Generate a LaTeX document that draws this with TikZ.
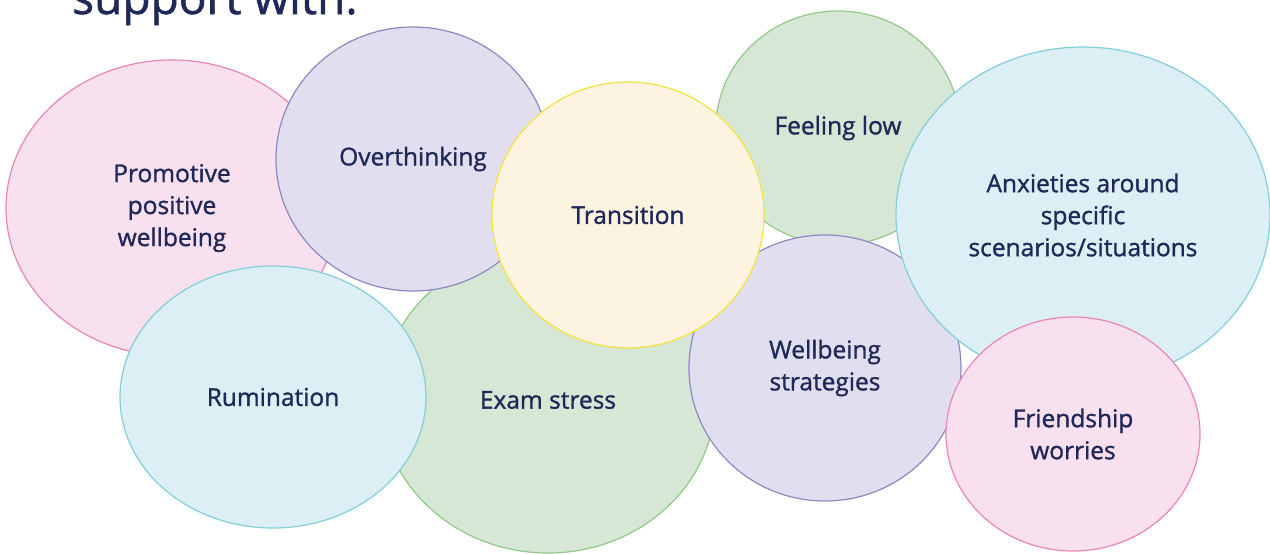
\documentclass[tikz,border=0pt]{standalone}
\usepackage{fontspec}
\setmainfont{Open Sans}
\newfontfamily\labelfont{Open Sans}[FakeBold=1.2]
\usepackage{xcolor}
\usepackage{tikz}
\usetikzlibrary{shapes}

\definecolor{navy_text}{HTML}{1F2858}
\definecolor{pink_fill}{HTML}{F9E0EE}
\definecolor{pink_line}{HTML}{E985B6}
\definecolor{lilac_fill}{HTML}{E1DFEF}
\definecolor{lilac_line}{HTML}{8E86C2}
\definecolor{sun_fill}{HTML}{FCF4E0}
\definecolor{sun_line}{HTML}{F5E23C}
\definecolor{mint_fill}{HTML}{D6E7D6}
\definecolor{mint_line}{HTML}{90CA86}
\definecolor{sky_fill}{HTML}{DCEFF4}
\definecolor{sky_line}{HTML}{82CFDA}

\tikzset{ bubble/.style = {ellipse, draw, line width=1.2pt, inner sep=0pt, align=center, text=navy_text, font=\labelfont\fontsize{24.5}{32}\selectfont} }
\tikzset{ pink_bubble/.style = {bubble, fill=pink_fill, draw=pink_line} }
\tikzset{ lilac_bubble/.style = {bubble, fill=lilac_fill, draw=lilac_line} }
\tikzset{ sun_bubble/.style = {bubble, fill=sun_fill, draw=sun_line} }
\tikzset{ mint_bubble/.style = {bubble, fill=mint_fill, draw=mint_line} }
\tikzset{ sky_bubble/.style = {bubble, fill=sky_fill, draw=sky_line} }

\begin{document}
\begin{tikzpicture}[x=1pt, y=-1pt]
    \useasboundingbox (0,0) rectangle (1270,554);
    \node[anchor=base west, text=navy_text, font=\labelfont\fontsize{46}{50}\selectfont, inner sep=0pt] (title) at (72,14) {support with.};
    % back to front
    \node[pink_bubble, minimum width=332pt, minimum height=296pt] (promotive) at (172,208) {Promotive\\positive\\wellbeing};
    \node[mint_bubble, minimum width=334pt, minimum height=306pt] (exam) at (548,400) {Exam stress};
    \node[mint_bubble, minimum width=244pt, minimum height=234pt] (low) at (838,128) {Feeling low};
    \node[lilac_bubble, minimum width=274pt, minimum height=264pt] (overthink) at (413,159) {Overthinking};
    \node[sky_bubble, minimum width=306pt, minimum height=262pt] (rumination) at (273,397) {Rumination};
    \node[lilac_bubble, minimum width=272pt, minimum height=266pt] (strategies) at (825,368) {Wellbeing\\strategies};
    \node[sun_bubble, minimum width=272pt, minimum height=266pt] (transition) at (628,215) {Transition};
    \node[sky_bubble, minimum width=374pt, minimum height=336pt] (anxieties) at (1083,215) {Anxieties around\\specific\\scenarios/situations};
    \node[pink_bubble, minimum width=254pt, minimum height=234pt] (friendship) at (1073,434) {Friendship\\worries};
\end{tikzpicture}
\end{document}
